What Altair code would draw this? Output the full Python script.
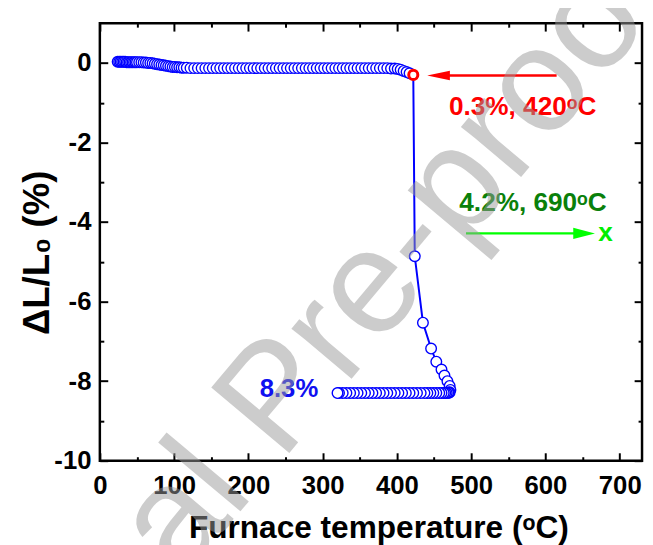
import altair as alt
import pandas as pd

# ---------------- data ----------------
# heating branch (top row of circles)
heat_T = [24, 26, 28, 30, 32, 34, 36, 38, 40, 42, 44, 46, 48, 50,
          53, 56, 59, 62, 65, 68, 71, 74, 77, 80, 83, 86, 89, 92, 95, 98, 101, 104, 107, 110, 113,
          117, 122, 127, 132, 137, 142, 147, 152, 157, 162, 167, 172, 177, 182, 187, 192, 197,
          202, 207, 212, 217, 222, 227, 232, 237, 242, 247, 252, 257, 262, 267, 272, 277, 282, 287,
          292, 297, 302, 307, 312, 317, 322, 327, 332, 337, 342, 347, 352, 357, 362, 367, 372, 377,
          382, 387, 392, 397, 401, 405, 409, 413, 417]
heat_dL = [0.03, 0.03, 0.03, 0.03, 0.03, 0.03, 0.02, 0.02, 0.02, 0.02, 0.02, 0.02, 0.02, 0.02,
           0.02, 0.02, 0.01, 0.01, 0.00, 0.00, -0.01, -0.02, -0.03, -0.04, -0.05, -0.06, -0.07, -0.08,
           -0.09, -0.10, -0.10, -0.11, -0.11, -0.12, -0.12,
           -0.12, -0.13, -0.13, -0.13, -0.13, -0.13, -0.13, -0.13, -0.13, -0.13, -0.13, -0.13, -0.13,
           -0.13, -0.13, -0.13, -0.13, -0.13, -0.13, -0.13, -0.13, -0.13, -0.13, -0.13, -0.13, -0.13,
           -0.13, -0.13, -0.13, -0.13, -0.13, -0.13, -0.13, -0.13, -0.13, -0.13, -0.13, -0.13, -0.13,
           -0.13, -0.13, -0.13, -0.13, -0.13, -0.13, -0.13, -0.13, -0.13, -0.13, -0.13, -0.13, -0.13,
           -0.13, -0.13, -0.13, -0.14, -0.14,
           -0.15, -0.17, -0.20, -0.23, -0.26]
# the marked onset point
red_T = [422]
red_dL = [-0.30]
# fast shrinkage branch
drop_T = [424, 435, 446, 453, 460, 464, 468, 471, 472]
drop_dL = [-4.86, -6.53, -7.18, -7.51, -7.71, -7.86, -8.00, -8.12, -8.22]
# cooling branch (bottom row of circles)
cool_T = [471, 470, 469, 467, 465, 463, 460, 457, 453, 449, 445, 441, 437, 432, 427, 422, 417,
          412, 407, 402, 397, 392, 387, 382, 377, 372, 367, 362, 357, 352, 347, 342, 337, 332,
          327, 322, 320]
cool_dL = [-8.28, -8.29, -8.29, -8.30, -8.30, -8.30, -8.30, -8.30, -8.30, -8.30, -8.30, -8.30,
           -8.30, -8.30, -8.30, -8.30, -8.30, -8.30, -8.30, -8.30, -8.30, -8.30, -8.30, -8.30,
           -8.30, -8.30, -8.30, -8.30, -8.30, -8.30, -8.30, -8.30, -8.30, -8.30, -8.30, -8.30, -8.30]

# tick values
x_major = [0, 100, 200, 300, 400, 500, 600, 700]
x_minor = [50, 150, 250, 350, 450, 550, 650]
y_major = [-10, -8, -6, -4, -2, 0]
y_minor = [-9, -7, -5, -3, -1]

# annotations (data coordinates)
arrow_T = [615, 493]
arrow_T2 = [452, 652]
arrow_dL = [-0.315, -4.285]
arrow_col = ["#ff0000", "#00ff00"]
red_head = [{"T": 456, "dL": -0.315}]
green_head = [{"T": 652, "dL": -4.285}]
label_text = ["0.3%, 420\u1d52C", "4.2%, 690\u1d52C", "x"]
label_T = [470, 484, 671]
label_dL = [-1.32, -3.72, -4.47]
label_col = ["#ff0000", "#0a800a", "#00ee00"]
blue_text = ["8.3%"]
blue_T = [294]
blue_dL = [-8.39]
mark_text = ["Journal Pre-proof"]
mark_T = [238]
mark_dL = [-8.45]

# ---------------- tables ----------------
allT = heat_T + red_T + drop_T + cool_T
allL = heat_dL + red_dL + drop_dL + cool_dL
df = pd.DataFrame({"T": allT, "dL": allL, "idx": list(range(len(allT)))})
blue_df = df[~((df["T"] == red_T[0]) & (df["dL"] == red_dL[0]))]
red_df = pd.DataFrame({"T": red_T, "dL": red_dL})
arrow_df = pd.DataFrame({"T": arrow_T, "T2": arrow_T2, "dL": arrow_dL, "c": arrow_col})
lab_df = pd.DataFrame({"T": label_T, "dL": label_dL, "t": label_text, "c": label_col})
blue_lab = pd.DataFrame({"T": blue_T, "dL": blue_dL, "t": blue_text})
mark_df = pd.DataFrame({"T": mark_T, "dL": mark_dL, "t": mark_text})

W, H = 549, 443
FONT = "Liberation Sans"
xs = alt.Scale(domain=[0, 730], nice=False, zero=False)
ys = alt.Scale(domain=[-10, 1], nice=False, zero=False)


def tick_axis(orient, offset, values, size):
    return alt.Axis(orient=orient, offset=offset, values=values, ticks=True, tickSize=size,
                    tickWidth=2, tickColor="black", labels=False, domain=False, grid=False,
                    title=None)


x_main = alt.Axis(orient="bottom", values=x_major, ticks=False, tickSize=0, domain=False,
                  grid=False, labelFont=FONT, labelFontWeight="bold", labelFontSize=26,
                  labelColor="black", labelPadding=12, labelFlush=False,
                  title="Furnace temperature (\u1d52C)", titleFont=FONT, titleFontSize=32,
                  titleFontWeight="bold", titleColor="black", titleY=78, titleX=282,
                  titleBaseline="alphabetic")
y_main = alt.Axis(orient="left", values=y_major, ticks=False, tickSize=0, domain=False,
                  grid=False, labelFont=FONT, labelFontWeight="bold", labelFontSize=26,
                  labelColor="black", labelPadding=9, labelExpr="'' + datum.value",
                  title="\u0394L/L\u2080 (%)", titleFont=FONT, titleFontSize=37,
                  titleFontWeight="bold", titleColor="black", titleAngle=270,
                  titleX=-52, titleY=232, titleAlign="center", titleBaseline="alphabetic")

line = alt.Chart(df).mark_line(color="#0000ff", strokeWidth=2).encode(
    x=alt.X("T:Q", scale=xs, axis=x_main),
    y=alt.Y("dL:Q", scale=ys, axis=y_main),
    order="idx:Q",
)
pts = alt.Chart(blue_df).mark_point(shape="circle", size=115, filled=False, fill="white",
                                    fillOpacity=1, stroke="#0000ff", strokeWidth=1.4,
                                    opacity=1).encode(
    x=alt.X("T:Q", scale=xs, axis=tick_axis("top", -H, x_major, 8)),
    y=alt.Y("dL:Q", scale=ys, axis=tick_axis("right", -W, y_major, 8)),
    order="idx:Q",
)
redpt = alt.Chart(red_df).mark_point(shape="circle", size=85, filled=False, fill="white",
                                     fillOpacity=1, stroke="#ff0000", strokeWidth=3,
                                     opacity=1).encode(
    x=alt.X("T:Q", scale=xs, axis=tick_axis("bottom", -H, x_major, 8)),
    y=alt.Y("dL:Q", scale=ys, axis=tick_axis("left", -W, y_major, 8)),
)
arrows = alt.Chart(arrow_df).mark_rule(strokeWidth=2.5).encode(
    x=alt.X("T:Q", scale=xs, axis=tick_axis("top", -H, x_minor, 4)),
    x2="T2:Q",
    y=alt.Y("dL:Q", scale=ys, axis=tick_axis("right", -W, y_minor, 4)),
    color=alt.Color("c:N", scale=None),
)
rhead = alt.Chart(alt.Data(values=red_head)).mark_point(
    shape="M -1 0 L 1 -0.42 L 1 0.42 Z", size=529, filled=True, color="#ff0000",
    opacity=1).encode(
    x=alt.X("T:Q", scale=xs, axis=tick_axis("bottom", -H, x_minor, 4)),
    y=alt.Y("dL:Q", scale=ys, axis=tick_axis("left", -W, y_minor, 4)),
)
ghead = alt.Chart(alt.Data(values=green_head)).mark_point(
    shape="M 1 0 L -1 -0.52 L -1 0.52 Z", size=484, filled=True, color="#00ff00",
    opacity=1).encode(
    x=alt.X("T:Q", scale=xs, axis=None),
    y=alt.Y("dL:Q", scale=ys, axis=None),
)
labels = alt.Chart(lab_df).mark_text(font=FONT, fontWeight="bold", fontSize=26.5, align="left",
                                     baseline="alphabetic").encode(
    x=alt.X("T:Q", scale=xs, axis=None),
    y=alt.Y("dL:Q", scale=ys, axis=None),
    text="t:N",
    color=alt.Color("c:N", scale=None),
)
blab = alt.Chart(blue_lab).mark_text(font=FONT, fontWeight="bold", fontSize=26, align="right",
                                     baseline="alphabetic", color="#1010f0").encode(
    x=alt.X("T:Q", scale=xs, axis=None),
    y=alt.Y("dL:Q", scale=ys, axis=None),
    text="t:N",
)
watermark = alt.Chart(mark_df).mark_text(font=FONT, fontSize=150, align="center",
                                         baseline="middle", angle=310, color="#9a9a9a",
                                         opacity=0.5).encode(
    x=alt.X("T:Q", scale=xs, axis=None),
    y=alt.Y("dL:Q", scale=ys, axis=None),
    text="t:N",
)

chart = alt.layer(line, pts, redpt, arrows, rhead, ghead, labels, blab, watermark).resolve_scale(
    x="shared", y="shared").resolve_axis(x="independent", y="independent").properties(
    width=W, height=H,
    autosize=alt.AutoSizeParams(type="none"),
    padding={"left": 93, "top": 12, "right": 3, "bottom": 82},
    background="white",
).configure_view(stroke="black", strokeWidth=2.5)

chart.save("out.html", embed_options={"renderer": "svg", "actions": False})
